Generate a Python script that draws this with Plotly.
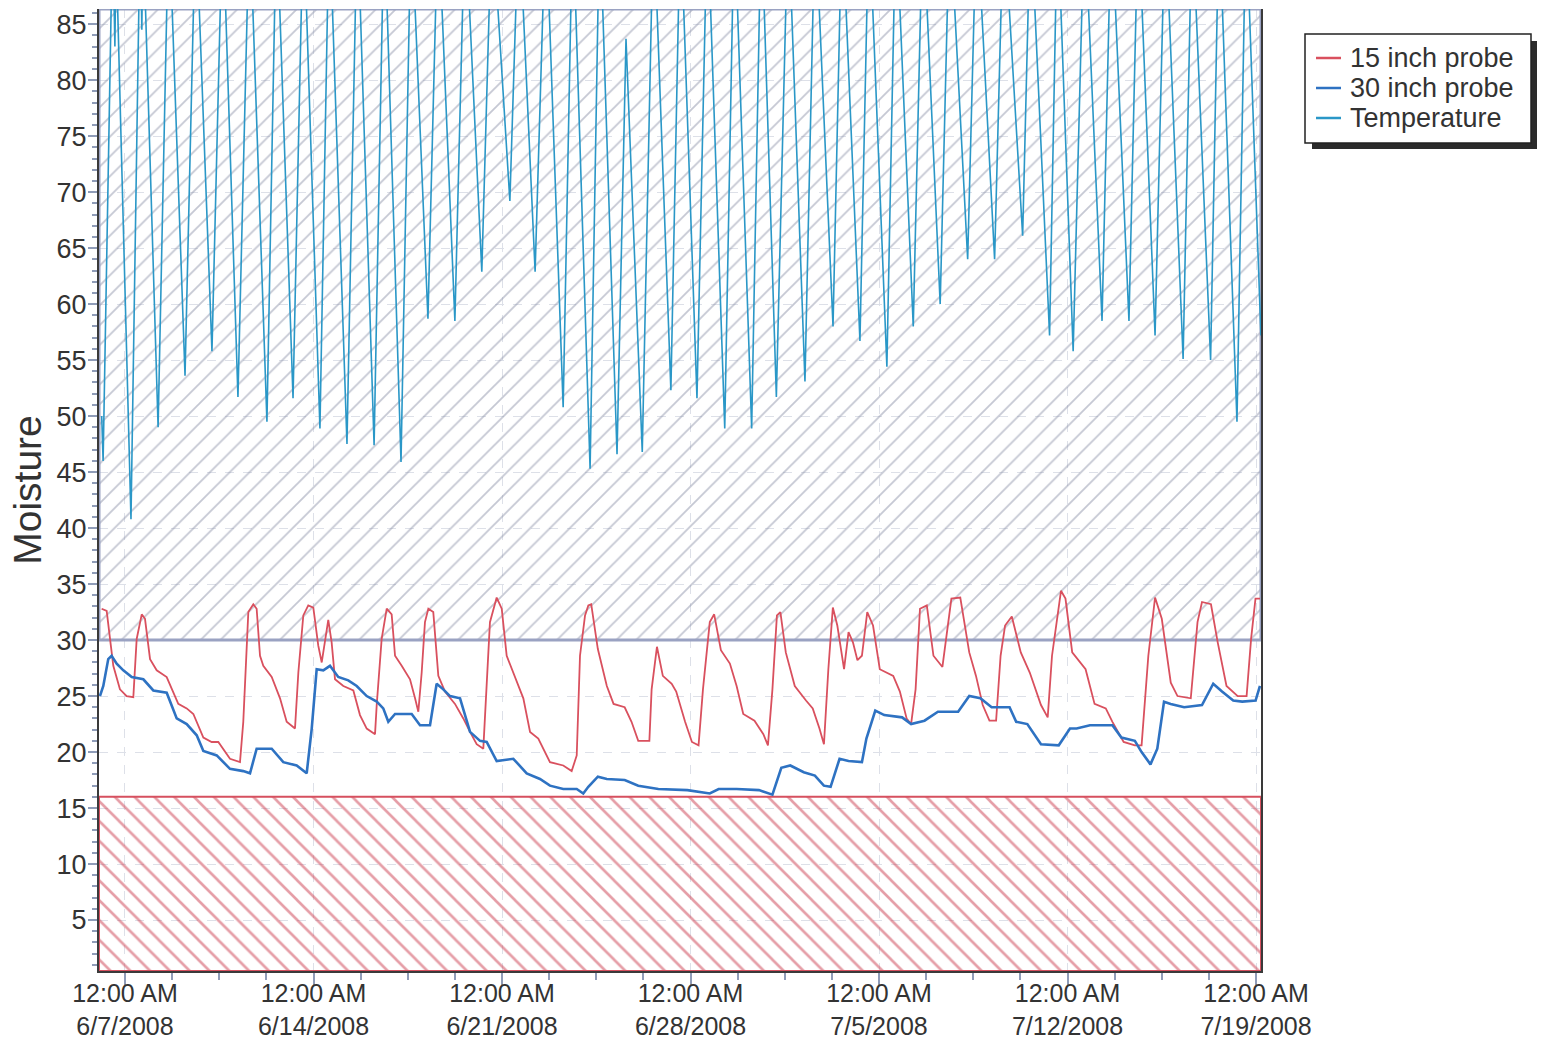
import plotly.graph_objects as go

# ---------------- data ----------------
probe15_time = [
    "2008-06-06 03:10", "2008-06-06 07:40", "2008-06-06 10:40", "2008-06-06 13:35", "2008-06-06 19:30",
    "2008-06-07 01:30", "2008-06-07 07:25", "2008-06-07 10:25", "2008-06-07 14:55", "2008-06-07 17:50",
    "2008-06-07 22:20", "2008-06-08 04:15", "2008-06-08 13:10", "2008-06-08 23:30", "2008-06-09 07:00",
    "2008-06-09 12:55", "2008-06-09 21:50", "2008-06-10 05:15", "2008-06-10 11:10", "2008-06-10 21:35",
    "2008-06-11 06:30", "2008-06-11 09:25", "2008-06-11 13:55", "2008-06-11 18:20", "2008-06-11 21:20",
    "2008-06-12 00:20", "2008-06-12 03:15", "2008-06-12 10:45", "2008-06-12 18:10", "2008-06-13 00:05",
    "2008-06-13 07:30", "2008-06-13 10:30", "2008-06-13 14:55", "2008-06-13 19:20", "2008-06-13 23:50",
    "2008-06-14 04:15", "2008-06-14 07:20", "2008-06-14 10:15", "2008-06-14 13:10", "2008-06-14 16:10",
    "2008-06-14 19:10", "2008-06-15 02:35", "2008-06-15 11:30", "2008-06-15 17:25", "2008-06-15 23:25",
    "2008-06-16 06:50", "2008-06-16 08:20", "2008-06-16 12:45", "2008-06-16 17:15", "2008-06-16 21:40",
    "2008-06-17 00:40", "2008-06-17 06:35", "2008-06-17 14:00", "2008-06-17 18:30", "2008-06-17 21:25",
    "2008-06-18 00:25", "2008-06-18 03:20", "2008-06-18 06:20", "2008-06-18 10:45", "2008-06-18 15:15",
    "2008-06-18 21:10", "2008-06-19 06:05", "2008-06-19 13:30", "2008-06-19 19:30", "2008-06-20 01:25",
    "2008-06-20 07:20", "2008-06-20 10:20", "2008-06-20 13:15", "2008-06-20 19:15", "2008-06-20 23:45",
    "2008-06-21 04:10", "2008-06-21 10:05", "2008-06-21 19:00", "2008-06-22 01:00", "2008-06-22 08:20",
    "2008-06-22 18:45", "2008-06-23 06:35", "2008-06-23 14:05", "2008-06-23 18:35", "2008-06-23 21:30",
    "2008-06-24 02:00", "2008-06-24 04:55", "2008-06-24 07:30", "2008-06-24 13:25", "2008-06-24 21:25",
    "2008-06-25 03:25", "2008-06-25 13:20", "2008-06-25 19:25", "2008-06-26 01:25", "2008-06-26 11:20",
    "2008-06-26 13:20", "2008-06-26 18:05", "2008-06-26 23:20", "2008-06-27 07:15", "2008-06-27 11:15",
    "2008-06-27 19:10", "2008-06-28 01:15", "2008-06-28 07:10", "2008-06-28 11:05", "2008-06-28 17:10",
    "2008-06-28 21:05", "2008-06-29 03:05", "2008-06-29 11:05", "2008-06-29 17:05", "2008-06-29 23:00",
    "2008-06-30 09:00", "2008-06-30 16:55", "2008-06-30 21:00", "2008-07-01 01:00", "2008-07-01 05:00",
    "2008-07-01 08:05", "2008-07-01 12:55", "2008-07-01 20:55", "2008-07-02 06:55", "2008-07-02 12:55",
    "2008-07-02 18:55", "2008-07-02 22:55", "2008-07-03 02:50", "2008-07-03 06:50", "2008-07-03 10:50",
    "2008-07-03 16:50", "2008-07-03 20:50", "2008-07-04 00:45", "2008-07-04 04:45", "2008-07-04 08:45",
    "2008-07-04 13:30", "2008-07-04 18:40", "2008-07-05 00:40", "2008-07-05 12:40", "2008-07-05 18:35",
    "2008-07-06 00:35", "2008-07-06 04:35", "2008-07-06 08:35", "2008-07-06 12:30", "2008-07-06 18:35",
    "2008-07-07 00:30", "2008-07-07 08:30", "2008-07-07 16:30", "2008-07-08 00:25", "2008-07-08 08:25",
    "2008-07-08 14:25", "2008-07-08 20:25", "2008-07-09 02:25", "2008-07-09 08:20", "2008-07-09 12:20",
    "2008-07-09 16:20", "2008-07-09 22:20", "2008-07-10 06:20", "2008-07-10 14:20", "2008-07-11 00:20",
    "2008-07-11 06:20", "2008-07-11 10:10", "2008-07-11 18:10", "2008-07-11 22:10", "2008-07-12 04:10",
    "2008-07-12 16:05", "2008-07-13 00:05", "2008-07-13 10:05", "2008-07-13 16:00", "2008-07-14 02:00",
    "2008-07-14 12:00", "2008-07-14 18:00", "2008-07-15 00:00", "2008-07-15 06:00", "2008-07-15 12:00",
    "2008-07-15 20:00", "2008-07-16 02:00", "2008-07-16 13:50", "2008-07-16 19:50", "2008-07-16 23:50",
    "2008-07-17 07:50", "2008-07-17 13:50", "2008-07-17 21:40", "2008-07-18 07:40", "2008-07-18 15:35",
    "2008-07-18 19:35", "2008-07-18 23:30", "2008-07-19 03:30",
]
probe15_value = [
    32.8, 32.6, 30.1, 27.7, 25.6,
    25.0, 24.9, 30.1, 32.3, 31.9,
    28.3, 27.3, 26.7, 24.3, 23.9,
    23.4, 21.3, 20.9, 20.9, 19.4,
    19.1, 22.7, 32.5, 33.2, 32.8,
    28.6, 27.7, 26.7, 24.8, 22.7,
    22.1, 27.1, 32.2, 33.1, 32.9,
    29.5, 28.0, 29.8, 31.8, 29.8,
    26.5, 25.9, 25.5, 23.3, 22.1,
    21.6, 24.2, 30.1, 32.8, 32.3,
    28.6, 27.7, 26.5, 24.8, 23.6,
    27.1, 31.6, 32.8, 32.5, 26.8,
    25.4, 24.3, 23.0, 21.8, 20.7,
    20.3, 25.6, 31.6, 33.8, 32.8,
    28.6, 27.1, 24.8, 21.8, 21.2,
    19.1, 18.8, 18.3, 19.7, 28.6,
    32.2, 33.1, 33.2, 29.2, 25.9,
    24.3, 24.0, 22.7, 21.0, 21.0,
    25.6, 29.4, 26.8, 26.1, 25.4,
    22.7, 20.9, 20.6, 25.6, 31.6,
    32.3, 29.1, 27.9, 25.9, 23.4,
    22.8, 21.6, 20.6, 25.6, 32.2,
    32.5, 28.9, 25.9, 24.6, 23.9,
    22.1, 20.7, 27.4, 32.9, 31.3,
    27.4, 30.7, 29.8, 28.2, 28.6,
    32.5, 31.3, 27.4, 26.8, 25.4,
    23.0, 22.5, 25.6, 32.8, 33.1,
    28.6, 27.6, 33.7, 33.8, 28.9,
    26.8, 24.2, 22.8, 22.8, 28.6,
    31.3, 32.1, 28.9, 27.1, 24.2,
    23.1, 28.6, 34.4, 33.7, 28.9,
    27.4, 24.3, 23.9, 22.7, 20.9,
    20.6, 20.6, 28.6, 33.8, 31.9,
    26.2, 25.0, 24.8, 31.6, 33.4,
    33.2, 29.8, 25.9, 25.0, 25.0,
    30.1, 33.7, 33.7,
]

probe30_time = [
    "2008-06-06 01:40", "2008-06-06 04:40", "2008-06-06 09:05", "2008-06-06 12:05", "2008-06-06 16:35",
    "2008-06-06 22:30", "2008-06-07 06:00", "2008-06-07 16:20", "2008-06-08 01:15", "2008-06-08 13:10",
    "2008-06-08 22:05", "2008-06-09 07:00", "2008-06-09 15:55", "2008-06-09 21:50", "2008-06-10 09:45",
    "2008-06-10 21:35", "2008-06-11 09:25", "2008-06-11 15:25", "2008-06-11 21:20", "2008-06-12 10:45",
    "2008-06-12 21:05", "2008-06-13 09:00", "2008-06-13 17:55", "2008-06-13 22:25", "2008-06-14 02:50",
    "2008-06-14 08:45", "2008-06-14 14:40", "2008-06-14 22:05", "2008-06-15 07:00", "2008-06-15 14:30",
    "2008-06-15 23:25", "2008-06-16 08:20", "2008-06-16 14:10", "2008-06-16 18:40", "2008-06-17 00:40",
    "2008-06-17 15:30", "2008-06-17 22:55", "2008-06-18 07:50", "2008-06-18 13:45", "2008-06-18 19:40",
    "2008-06-19 01:40", "2008-06-19 10:35", "2008-06-19 19:30", "2008-06-20 04:25", "2008-06-20 10:20",
    "2008-06-20 19:15", "2008-06-21 10:05", "2008-06-21 22:00", "2008-06-22 09:50", "2008-06-22 18:45",
    "2008-06-23 06:35", "2008-06-23 18:35", "2008-06-24 00:25", "2008-06-24 04:55", "2008-06-24 13:25",
    "2008-06-24 21:25", "2008-06-25 13:20", "2008-06-26 01:25", "2008-06-26 19:20", "2008-06-27 21:10",
    "2008-06-28 17:10", "2008-06-29 01:05", "2008-06-29 17:05", "2008-06-30 13:00", "2008-07-01 01:00",
    "2008-07-01 08:55", "2008-07-01 16:55", "2008-07-02 04:55", "2008-07-02 14:50", "2008-07-02 22:50",
    "2008-07-03 04:50", "2008-07-03 12:50", "2008-07-03 20:50", "2008-07-04 08:45", "2008-07-04 12:45",
    "2008-07-04 20:40", "2008-07-05 04:40", "2008-07-05 20:35", "2008-07-06 04:35", "2008-07-06 16:30",
    "2008-07-07 04:30", "2008-07-07 22:30", "2008-07-08 08:25", "2008-07-08 18:20", "2008-07-09 04:20",
    "2008-07-09 20:20", "2008-07-10 02:15", "2008-07-10 12:10", "2008-07-11 00:20", "2008-07-11 16:10",
    "2008-07-12 02:10", "2008-07-12 08:05", "2008-07-12 20:00", "2008-07-13 16:00", "2008-07-14 00:00",
    "2008-07-14 12:00", "2008-07-14 18:00", "2008-07-15 01:55", "2008-07-15 08:00", "2008-07-15 14:00",
    "2008-07-15 19:55", "2008-07-16 07:55", "2008-07-16 23:50", "2008-07-17 09:50", "2008-07-17 17:40",
    "2008-07-18 03:40", "2008-07-18 11:40", "2008-07-18 23:35", "2008-07-19 03:30",
]
probe30_value = [
    25.0, 25.9, 28.3, 28.6, 27.9,
    27.3, 26.7, 26.5, 25.5, 25.3,
    23.0, 22.5, 21.5, 20.1, 19.7,
    18.5, 18.3, 18.1, 20.3, 20.3,
    19.1, 18.8, 18.1, 22.1, 27.4,
    27.3, 27.7, 26.7, 26.4, 25.9,
    25.0, 24.5, 23.9, 22.7, 23.4,
    23.4, 22.4, 22.4, 26.1, 25.6,
    25.0, 24.8, 21.8, 21.0, 20.9,
    19.2, 19.4, 18.1, 17.6, 17.0,
    16.7, 16.7, 16.3, 16.9, 17.8,
    17.6, 17.5, 17.0, 16.7, 16.6,
    16.3, 16.7, 16.7, 16.6, 16.2,
    18.6, 18.8, 18.2, 17.9, 17.0,
    16.9, 19.4, 19.2, 19.1, 21.2,
    23.7, 23.3, 23.1, 22.5, 22.8,
    23.6, 23.6, 25.0, 24.8, 24.0,
    24.0, 22.7, 22.5, 20.7, 20.6,
    22.1, 22.1, 22.4, 22.4, 21.3,
    21.0, 20.0, 18.9, 20.3, 24.5,
    24.3, 24.0, 24.2, 26.1, 25.4,
    24.6, 24.5, 24.6, 25.9,
]

temp_time = [
    "2008-06-06 03:15", "2008-06-06 04:30", "2008-06-06 13:00", "2008-06-06 15:00", "2008-06-06 16:00",
    "2008-06-07 05:20", "2008-06-07 13:30", "2008-06-07 15:00", "2008-06-07 16:00",
    "2008-06-08 05:30", "2008-06-08 15:00", "2008-06-09 05:30", "2008-06-09 15:00",
    "2008-06-10 05:30", "2008-06-10 15:00", "2008-06-11 04:40", "2008-06-11 15:00",
    "2008-06-12 06:30", "2008-06-12 15:00", "2008-06-13 05:45", "2008-06-13 15:00",
    "2008-06-14 05:45", "2008-06-14 14:00", "2008-06-14 18:30",
    "2008-06-15 05:50", "2008-06-15 15:00", "2008-06-16 06:00", "2008-06-16 15:00",
    "2008-06-17 06:00", "2008-06-17 15:00", "2008-06-18 06:00", "2008-06-18 15:00",
    "2008-06-19 06:00", "2008-06-19 15:00", "2008-06-20 06:00", "2008-06-20 15:00",
    "2008-06-21 07:00", "2008-06-21 15:00", "2008-06-22 05:30", "2008-06-22 15:00",
    "2008-06-23 06:30", "2008-06-23 15:00", "2008-06-24 06:30", "2008-06-24 15:00",
    "2008-06-25 06:30", "2008-06-25 14:30", "2008-06-26 05:00", "2008-06-26 15:00",
    "2008-06-27 06:30", "2008-06-27 15:00", "2008-06-28 05:45", "2008-06-28 15:00",
    "2008-06-29 06:30", "2008-06-29 15:00", "2008-06-30 06:30", "2008-06-30 15:00",
    "2008-07-01 04:30", "2008-07-01 15:00", "2008-07-02 06:00", "2008-07-02 15:00",
    "2008-07-03 07:00", "2008-07-03 15:00", "2008-07-04 07:00", "2008-07-04 15:00",
    "2008-07-05 07:00", "2008-07-05 15:00", "2008-07-06 06:30", "2008-07-06 15:00",
    "2008-07-07 06:30", "2008-07-07 15:00", "2008-07-08 07:00", "2008-07-08 15:00",
    "2008-07-09 07:00", "2008-07-09 15:00", "2008-07-10 08:00", "2008-07-10 15:00",
    "2008-07-11 08:00", "2008-07-11 15:00", "2008-07-12 05:00", "2008-07-12 15:00",
    "2008-07-13 06:45", "2008-07-13 15:00", "2008-07-14 06:45", "2008-07-14 15:00",
    "2008-07-15 06:00", "2008-07-15 15:00", "2008-07-16 07:00", "2008-07-16 15:00",
    "2008-07-17 07:30", "2008-07-17 15:00", "2008-07-18 07:00", "2008-07-18 15:00",
    "2008-07-19 04:20",
]
temp_value = [
    50.0, 46.0, 94, 83.0, 92,
    40.8, 94, 84.5, 94,
    49.0, 95, 53.6, 95,
    55.8, 95, 51.7, 95,
    49.5, 95, 51.6, 95,
    48.9, 95, 82.0,
    47.5, 95, 47.4, 95,
    45.9, 95, 58.7, 95,
    58.5, 95, 62.9, 95,
    69.2, 95, 62.9, 95,
    50.8, 95, 45.3, 95,
    46.6, 83.7, 46.8, 95,
    52.3, 95, 51.6, 95,
    48.9, 95, 48.9, 95,
    51.7, 95, 53.1, 95,
    58.0, 95, 56.7, 95,
    54.4, 95, 58.0, 95,
    60.0, 95, 64.0, 95,
    64.0, 95, 66.1, 95,
    57.2, 95, 55.8, 95,
    58.5, 95, 58.5, 95,
    57.2, 95, 55.1, 95,
    55.0, 95, 49.5, 95,
    57.2,
]

series_names = ["15 inch probe", "30 inch probe", "Temperature"]
series_colors = ["#d9505e", "#2e72c2", "#2a97c7"]

# thresholds of the shaded zones (moisture)
upper_zone = [30, 86.35]
lower_zone = [0.45, 16]

x_ticks = ["2008-06-07", "2008-06-14", "2008-06-21", "2008-06-28", "2008-07-05", "2008-07-12", "2008-07-19"]
x_ticktext = ["12:00 AM<br>6/7/2008", "12:00 AM<br>6/14/2008", "12:00 AM<br>6/21/2008",
              "12:00 AM<br>6/28/2008", "12:00 AM<br>7/5/2008", "12:00 AM<br>7/12/2008",
              "12:00 AM<br>7/19/2008"]
x_range = ["2008-06-06 00:50", "2008-07-19 04:25"]
y_range = [0.45, 86.35]

# ---------------- figure ----------------
FONT = "Liberation Sans, Arial, sans-serif"
TXT = "#333333"

W, H = 1543, 1050
PLOT_L, PLOT_R, PLOT_T, PLOT_B = 99, 1261, 9, 971   # target plot area in the picture
ML, MR, MT, MB = PLOT_L, W - PLOT_R, PLOT_T, H - PLOT_B
pw, ph = PLOT_R - PLOT_L, PLOT_B - PLOT_T


def px_x(p):
    return (p - PLOT_L) / pw


def px_y(p):
    return 1 - (p - PLOT_T) / ph


fig = go.Figure()

xs_band = [x_range[0], x_range[1], x_range[1], x_range[0], x_range[0]]

fig.add_trace(go.Scatter(
    x=xs_band, y=[upper_zone[0], upper_zone[0], upper_zone[1], upper_zone[1], upper_zone[0]],
    mode="lines", fill="toself", showlegend=False, hoverinfo="skip",
    line=dict(color="#9aa2c2", width=3),
    fillcolor="rgba(0,0,0,0)",
    fillpattern=dict(shape="/", fgcolor="#8c91a8", bgcolor="rgba(255,255,255,0)", size=14, solidity=0.13),
))
fig.add_trace(go.Scatter(
    x=xs_band, y=[lower_zone[0], lower_zone[0], lower_zone[1], lower_zone[1], lower_zone[0]],
    mode="lines", fill="toself", showlegend=False, hoverinfo="skip",
    line=dict(color="#d6505f", width=2),
    fillcolor="rgba(0,0,0,0)",
    fillpattern=dict(shape="\\", fgcolor="#cc3d4f", bgcolor="rgba(255,255,255,0)", size=14, solidity=0.19),
))

fig.add_trace(go.Scatter(x=probe15_time, y=probe15_value, mode="lines", name=series_names[0],
                         showlegend=False, line=dict(color=series_colors[0], width=1.8)))
fig.add_trace(go.Scatter(x=probe30_time, y=probe30_value, mode="lines", name=series_names[1],
                         showlegend=False, line=dict(color=series_colors[1], width=2.6)))
fig.add_trace(go.Scatter(x=temp_time, y=temp_value, mode="lines", name=series_names[2],
                         showlegend=False, line=dict(color=series_colors[2], width=1.6)))

# ---- legend box (drawn with shapes + text, to match the boxed legend with shadow) ----
LEG_X0, LEG_X1, LEG_Y0, LEG_Y1 = 1305, 1531, 34, 143
fig.add_shape(type="rect", xref="paper", yref="paper",
              x0=px_x(LEG_X0 + 7), x1=px_x(LEG_X1 + 6), y0=px_y(LEG_Y1 + 6), y1=px_y(LEG_Y0 + 7),
              fillcolor="#2b2b2b", line=dict(width=0), layer="above")
fig.add_shape(type="rect", xref="paper", yref="paper",
              x0=px_x(LEG_X0), x1=px_x(LEG_X1), y0=px_y(LEG_Y1), y1=px_y(LEG_Y0),
              fillcolor="white", line=dict(color="#222222", width=1.5), layer="above")
for i, (name, col) in enumerate(zip(series_names, series_colors)):
    yc = 58 + 30 * i
    fig.add_shape(type="line", xref="paper", yref="paper",
                  x0=px_x(1316), x1=px_x(1341), y0=px_y(yc), y1=px_y(yc),
                  line=dict(color=col, width=2.5), layer="above")
    fig.add_annotation(xref="paper", yref="paper", x=px_x(1348), y=px_y(yc),
                       xanchor="left", yanchor="middle", showarrow=False,
                       text=name, font=dict(size=27, color=TXT, family=FONT))

fig.update_layout(
    width=W, height=H,
    margin=dict(l=ML, r=MR, t=MT, b=MB),
    paper_bgcolor="white", plot_bgcolor="white",
    font=dict(family=FONT, color=TXT, size=27),
    showlegend=False,
    xaxis=dict(
        type="date", range=x_range,
        tickmode="array", tickvals=x_ticks, ticktext=x_ticktext,
        ticks="outside", ticklen=12, tickwidth=1.5, tickcolor="#8f9cb8",
        tickfont=dict(size=25, color=TXT), ticklabelstandoff=-13,
        showgrid=True, gridcolor="#dde0e8", griddash="dash", gridwidth=1,
        showline=True, linecolor="#3a3a3a", linewidth=2, mirror=False,
        minor=dict(dtick=1.75 * 86400000, tick0="2008-06-07", ticks="outside",
                   ticklen=7, tickcolor="#8f9cb8", showgrid=False),
        zeroline=False,
    ),
    yaxis=dict(
        range=y_range,
        tickmode="array", tickvals=list(range(5, 90, 5)),
        ticks="outside", ticklen=9, tickwidth=1.5, tickcolor="#8f9cb8",
        tickfont=dict(size=27, color=TXT), ticklabelstandoff=-4,
        showgrid=True, gridcolor="#dde0e8", griddash="dash", gridwidth=1,
        showline=True, linecolor="#3a3a3a", linewidth=2, mirror=True,
        minor=dict(dtick=1, ticks="outside", ticklen=5, tickcolor="#8f9cb8", showgrid=False),
        title=dict(text="Moisture", font=dict(size=39, color=TXT, family=FONT), standoff=3),
        zeroline=False,
    ),
)

fig.write_html(
    "out.html",
    config={"displayModeBar": False},
    post_script=(
        "document.documentElement.style.margin='0';"
        "document.body.style.margin='0';"
        "document.documentElement.style.overflow='hidden';"
        "document.body.style.overflow='hidden';"
        "var gd=document.getElementById('{plot_id}');"
        "gd.style.overflow='hidden';"
        "if(gd.parentNode){gd.parentNode.style.overflow='hidden';gd.parentNode.style.height='1050px';}"
    ),
)
